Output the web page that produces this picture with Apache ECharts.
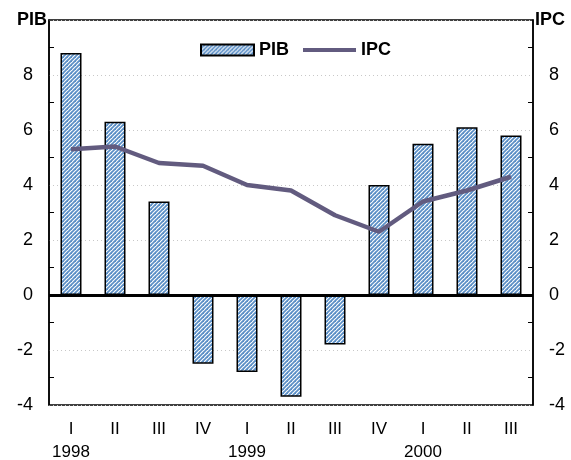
<!DOCTYPE html>
<html><head><meta charset="utf-8">
<script src="https://cdn.jsdelivr.net/npm/echarts@6/dist/echarts.min.js"></script>
<style>html,body{margin:0;padding:0;background:#fff}#c{width:571px;height:460px}</style>
</head><body><div id="c"></div>
<script>
var quarters = ['I','II','III','IV','I','II','III','IV','I','II','III'];
var years = ['1998','','','','1999','','','','2000','',''];
var pib = [8.8, 6.3, 3.4, -2.5, -2.8, -3.7, -1.8, 4.0, 5.5, 6.1, 5.8];
var ipc = [5.3, 5.4, 4.8, 4.7, 4.0, 3.8, 2.9, 2.3, 3.4, 3.8, 4.3];
var yTicks = [-4, -2, 0, 2, 4, 6, 8, 10];

var cv = document.createElement('canvas');
cv.width = 4; cv.height = 4;
var g = cv.getContext('2d');
g.fillStyle = '#ffffff'; g.fillRect(0,0,4,4);
g.strokeStyle = '#5b8fc6'; g.lineWidth = 1.8;
[0,4,8].forEach(function(c){ g.beginPath(); g.moveTo(-1, c+1); g.lineTo(5, c-5); g.stroke(); });
var pattern = {image: cv, repeat: 'repeat'};

var cats = quarters.map(function(q,i){ return q + '\n' + (years[i] || ' '); });
var font = 'Liberation Sans, Arial, sans-serif';

function yAxis(name, pos){
  return {
    type: 'value', position: pos, min: yTicks[0], max: yTicks[yTicks.length-1], interval: 2,
    name: name, nameLocation: 'end', nameGap: 0,
    nameTextStyle: {fontFamily: font, fontWeight: 'bold', fontSize: 18, color: '#000',
      align: pos === 'left' ? 'right' : 'left', verticalAlign: 'middle', padding: pos==='left'?[4,2,0,0]:[4,0,0,2]},
    axisLine: {show: true, lineStyle: {color: '#000', width: 1.5}},
    axisTick: {show: false, inside: true},
    minorTick: {show: true, splitNumber: 2, length: 5, lineStyle: {color: '#000', width: 1}},
    axisLabel: {fontFamily: font, fontSize: 18, color: '#000', margin: 16,
      formatter: function(v){ return v === 10 ? '' : String(v); }},
    splitLine: {show: pos === 'left', lineStyle: {color: '#c8c8c8', type: [1,3], width: 1}}
  };
}

var chart = echarts.init(document.getElementById('c'));
chart.setOption({
  animation: false,
  grid: {left: 49, right: 38, top: 20, bottom: 55, show: true, borderColor: '#000', borderWidth: 1.5,
    outerBoundsMode: 'none', containLabel: false},
  legend: {
    top: 36, left: 195, itemGap: 14, itemWidth: 53, itemHeight: 11,
    textStyle: {fontFamily: font, fontWeight: 'bold', fontSize: 18, color: '#000'},
    data: [
      {name: 'PIB', icon: 'rect'},
      {name: 'IPC', icon: 'path://M0,3.5 L53,3.5 L53,7.5 L0,7.5 Z M0,0 L0.01,0 L0.01,0.01 Z M0,11 L0.01,11 L0.01,10.99 Z',
       itemStyle: {color: '#625b7f', borderWidth: 0}}
    ]
  },
  xAxis: {
    type: 'category', data: cats,
    axisLine: {show: false, onZero: false}, axisTick: {show: false},
    axisLabel: {fontFamily: font, fontSize: 17, color: '#000', margin: 13, lineHeight: 23, interval: 0}
  },
  yAxis: [yAxis('PIB', 'left'), yAxis('IPC', 'right')],
  series: [
    {name: 'PIB', type: 'bar', data: pib, barWidth: 21,
     itemStyle: {color: pattern, borderColor: '#000', borderWidth: 1.5},
     markLine: {silent: true, symbol: 'none', label: {show: false},
       lineStyle: {color: '#000', width: 3, type: 'solid'}, data: [{yAxis: 0}]}},
    {name: 'IPC', type: 'line', data: ipc, yAxisIndex: 1, symbol: 'none',
     lineStyle: {color: '#625b7f', width: 4.5}, itemStyle: {color: '#625b7f'}, z: 3}
  ]
});
</script></body></html>
